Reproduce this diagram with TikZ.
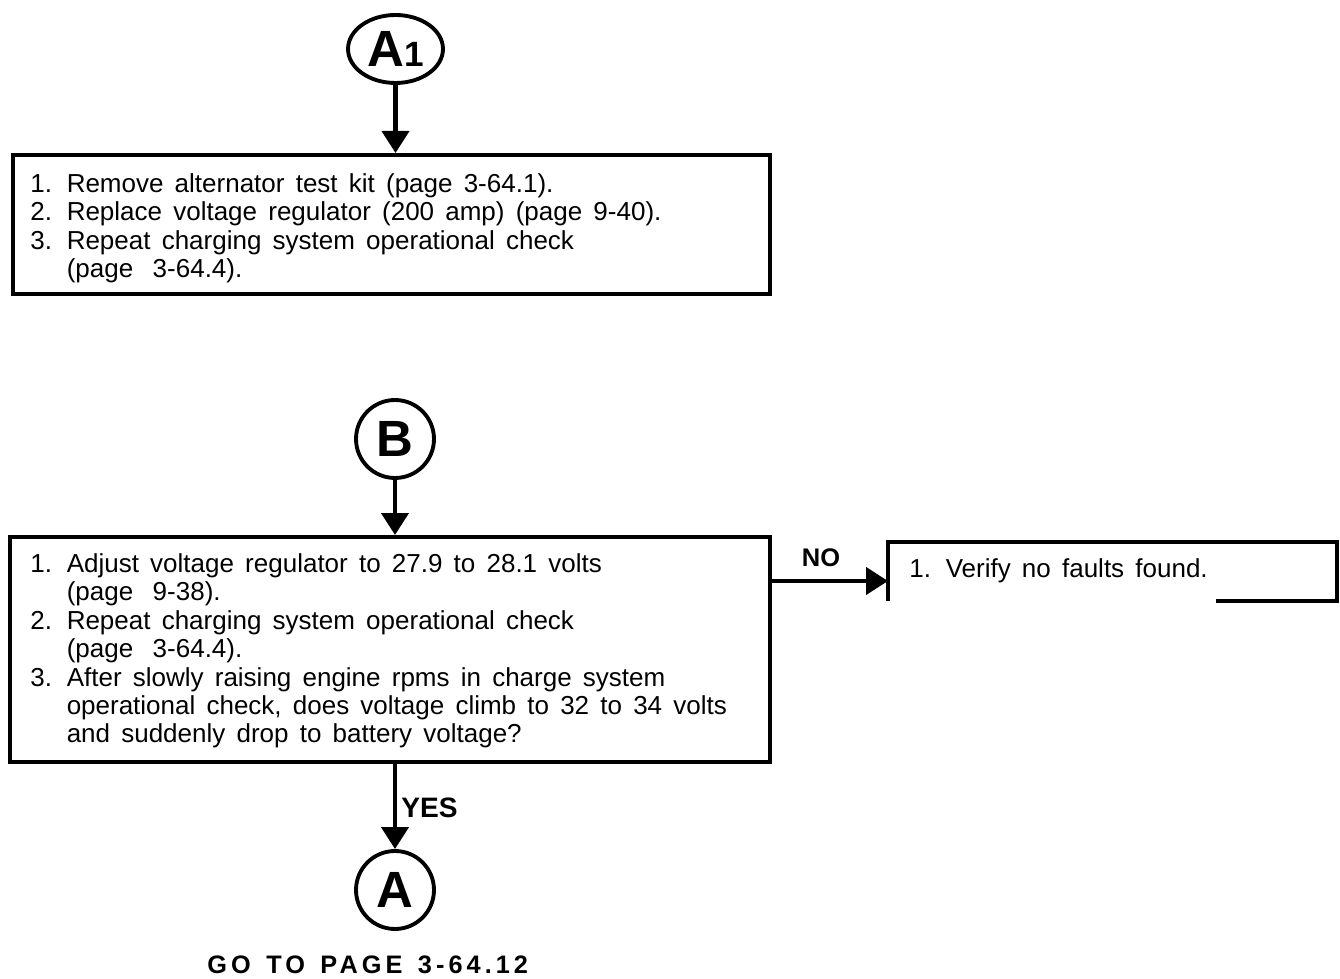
\documentclass[tikz,border=0pt]{standalone}
\usepackage{fontspec}
\setmainfont{Liberation Sans}[WordSpace=1.55]
\newfontfamily\gofont{Liberation Sans}[LetterSpace=16,WordSpace=1.4]
\usetikzlibrary{arrows.meta,shapes.geometric}

\newcommand{\stepno}[1]{\makebox[1.4em][l]{#1}}
\newcommand{\stepgap}{\hspace*{1.4em}}
\newcommand{\pagegap}{\hspace{0.75em}}

\begin{document}
\begin{tikzpicture}[x=0.02cm,y=-0.02cm,
  frame/.style={draw,line width=2.4pt,inner sep=0pt,anchor=north west},
  steps/.style={anchor=north west,inner sep=0pt,align=left,
    font=\fontsize{14.8}{16.2}\selectfont},
  ring/.style={circle,draw,line width=2.2pt,inner sep=0pt,minimum size=1.56cm,
    font=\fontsize{29}{29}\selectfont\bfseries},
  answer/.style={inner sep=0pt,font=\fontsize{14.5}{16}\selectfont\bfseries},
  arr/.style={line width=2.4pt,-{Triangle[width=0.54cm,length=0.44cm]}}]
\useasboundingbox (0,0) rectangle (1340,979);

% connector A1
\node[ring,ellipse,minimum width=1.9cm,minimum height=1.36cm] (A1) at (395.5,49)
  {A\fontsize{20}{20}\selectfont1};

\node[frame,minimum width=15.14cm,minimum height=2.78cm] (box1) at (11,153) {};
\node[steps] (txt1) at (30,173) {%
  \stepno{1.}Remove alternator test kit (page 3-64.1).\\
  \stepno{2.}Replace voltage regulator (200 amp) (page 9-40).\\
  \stepno{3.}Repeat charging system operational check\\
  \stepgap(page\pagegap3-64.4).};

\draw[arr] (A1.south) -- (A1.south |- box1.north);

% connector B
\node[ring] (B) at (395,439) {B};

\node[frame,minimum width=15.2cm,minimum height=4.5cm] (box2) at (8,535) {};
\node[steps] (txt2) at (30,553) {%
  \stepno{1.}Adjust voltage regulator to 27.9 to 28.1 volts\\
  \stepgap(page\pagegap9-38).\\
  \stepno{2.}Repeat charging system operational check\\
  \stepgap(page\pagegap3-64.4).\\
  \stepno{3.}After slowly raising engine rpms in charge system\\
  \stepgap operational check, does voltage climb to 32 to 34 volts\\
  \stepgap and suddenly drop to battery voltage?};

\draw[arr] (B.south) -- (B.south |- box2.north);

% NO branch
\node[frame,draw=none,minimum width=8.9cm,minimum height=1.1cm] (box3) at (888,542) {};
\draw[line width=2.4pt] ([xshift=-2.42cm]box3.south east) -- (box3.south east)
  -- (box3.north east) -- (box3.north west) -- (box3.south west);
\node[steps] (txt3) at (909,558) {\stepno{1.}Verify no faults found.};

\coordinate (nofrom) at (769,581);
\draw[arr] (nofrom) -- (nofrom -| box3.west);
\node[answer] (no) at (821,558) {NO};

% YES branch
\node[ring] (A) at (395,890) {A};
\draw[arr] (box2.south -| A.north) -- (A.north);
\node[answer,anchor=west,font=\fontsize{16}{16}\selectfont\bfseries] (yes) at (401,808) {YES};

\node[anchor=base west,inner sep=0pt,font=\gofont\fontsize{14.4}{16}\selectfont\bfseries]
  (goto) at (207,973) {GO TO PAGE 3-64.12};
\end{tikzpicture}
\end{document}
